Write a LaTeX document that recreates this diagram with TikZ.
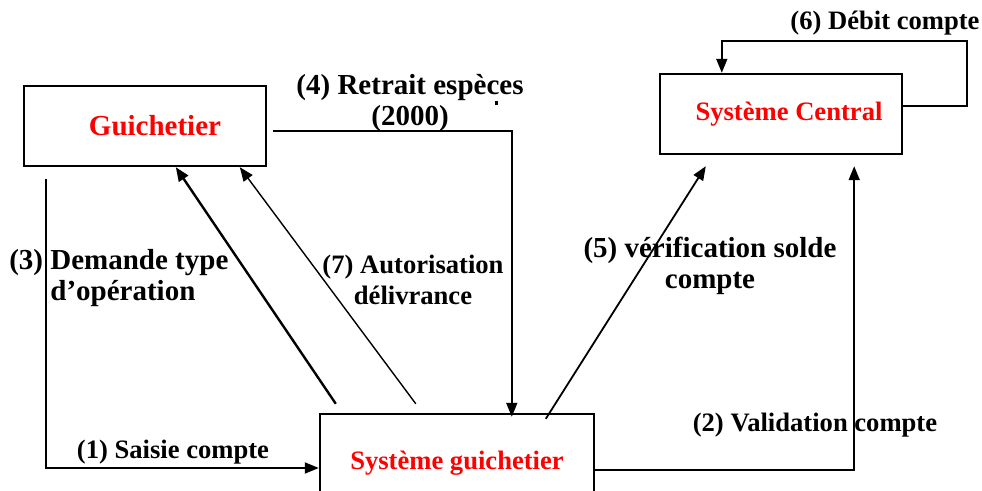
\documentclass[tikz,border=0pt]{standalone}
\usepackage{fontspec}
\setmainfont{Liberation Serif}
\usetikzlibrary{arrows.meta}

\begin{document}
\begin{tikzpicture}[x=0.5pt,y=-0.5pt,
   font=\fontsize{14.5}{15.5}\selectfont\bfseries,
   box/.style={draw,line width=1.2pt,minimum width=121pt,minimum height=40pt,text=red},
   msg/.style={align=center,inner sep=0pt},
   narrow/.style={font=\fontsize{13.3}{15.5}\selectfont\bfseries},
   narrowmsg/.style={msg,narrow},
   flow/.style={-{Triangle[length=7pt,width=5.5pt]},line width=0.9pt}]
\useasboundingbox (0,0) rectangle (982,491);
\node[box] (guich) at (145,126) {\hspace*{10pt}Guichetier};
\node[box,narrow] (central) at (781,114) {\hspace*{8pt}Système Central};
\node[box,narrow,minimum width=137pt,minimum height=49pt] (sysg) at (457,463) {Système guichetier};
\coordinate (start) at (46,179);
% messages
\draw[flow] (start) |- ([yshift=-2.5pt]sysg.west);
\draw[flow] ([yshift=-3.5pt]sysg.east) -| ([xshift=-24.5pt,yshift=-5.5pt]central.south east);
\draw[flow,line width=1.2pt] ([xshift=8.5pt,yshift=4.5pt]sysg.north west) -- ([xshift=76.5pt]guich.south west);
\draw[flow] ([xshift=3pt,yshift=-2.5pt]guich.east) -| ([xshift=96.5pt,yshift=-2pt]sysg.north west);
\draw[flow] ([xshift=113.5pt,yshift=-3pt]sysg.north west) -- ([xshift=23.5pt,yshift=-5.5pt]central.south west);
\draw[flow] ([yshift=4pt]central.east) -- ++(64,0) |- ([xshift=31.5pt,yshift=16pt]central.north west) -- ([xshift=31.5pt]central.north west);
\draw[flow,line width=0.7pt] ([xshift=48.5pt,yshift=4.5pt]sysg.north west) -- ([xshift=108.5pt]guich.south west);
\fill (494.5,101) rectangle (497.5,105);
% labels
\node[narrowmsg] (l1) at (173,452) {(1) Saisie compte};
\node[narrowmsg] (l2) at (815,425) {(2) Validation compte};
\node[msg,align=left,anchor=west] (l3) at (50,278) {\llap{(3) }Demande type\\d’opération};
\node[msg] (l4) at (410,103) {(4) Retrait espèces\\ (2000)};
\node[msg] (l5) at (710,266) {(5) vérification solde\\ compte};
\node[narrowmsg] (l6) at (885,23) {(6) Débit compte};
\node[narrowmsg] (l7) at (413,280) {(7) Autorisation\\ délivrance};
\end{tikzpicture}
\end{document}
